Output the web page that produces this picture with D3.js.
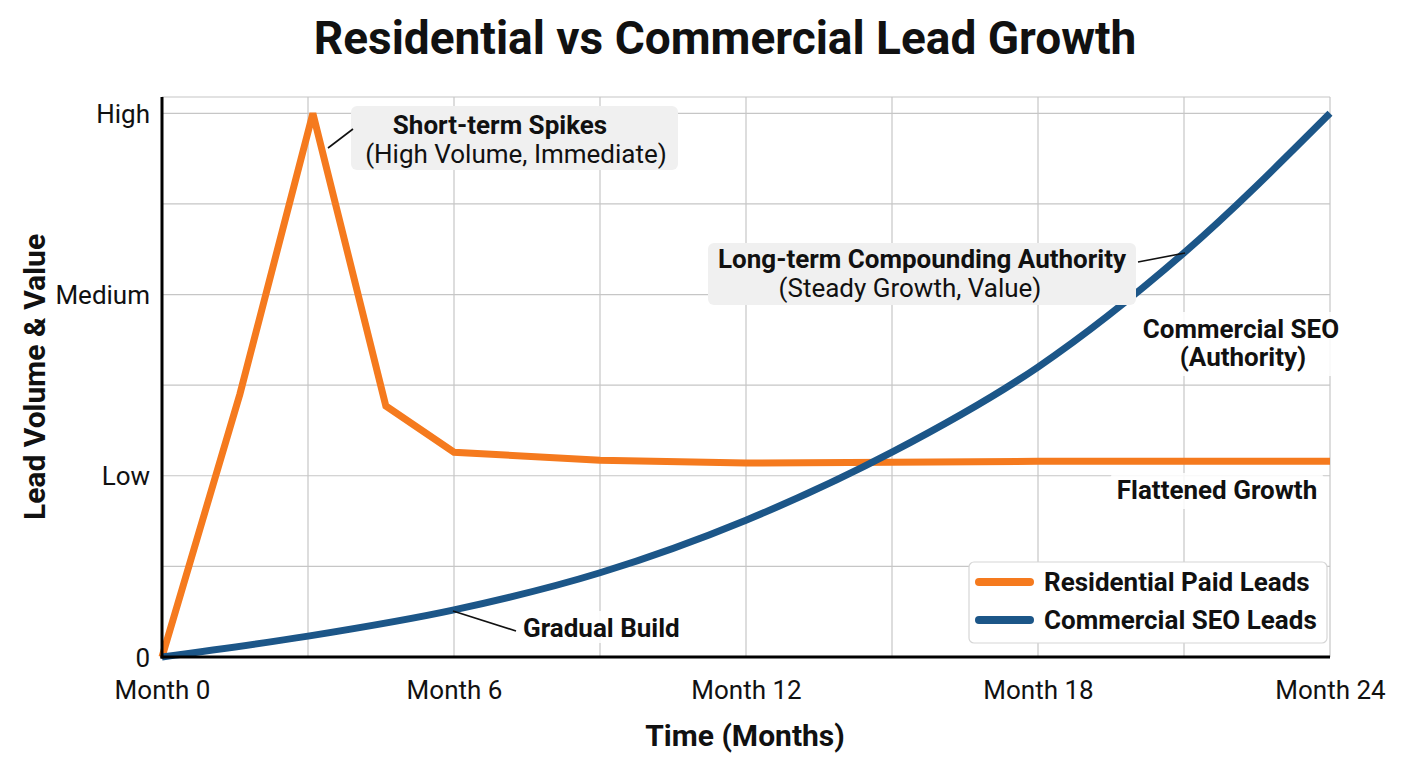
<!DOCTYPE html>
<html>
<head>
<meta charset="utf-8">
<script src="https://cdn.jsdelivr.net/npm/d3@7"></script>
<style>
  body { margin: 0; background: #fff; }
  text { font-family: Roboto, "Noto Sans", sans-serif; fill: #111; }
</style>
</head>
<body>
<script>
// данные (месяцы и условный уровень 0..6)
const paidMonths = [0, 1.6, 3.1, 4.6, 6, 9, 12, 15, 18, 21, 24]
const paidLeads = [0, 2.9, 6, 2.77, 2.26, 2.17, 2.14, 2.15, 2.16, 2.16, 2.16]
const seoMonths = [0, 3, 6, 9, 12, 15, 18, 21, 24]
const seoLeads = [0, 0.23, 0.52, 0.93, 1.51, 2.26, 3.2, 4.46, 6.0]

const xTicks = [0, 6, 12, 18, 24]
const xTickLabels = ['Month 0', 'Month 6', 'Month 12', 'Month 18', 'Month 24']
const yTicks = [0, 2, 4, 6]
const yTickLabels = ['0', 'Low', 'Medium', 'High']
const seriesNames = ['Residential Paid Leads', 'Commercial SEO Leads']

const width = 1408, height = 768
const orange = '#f57a1e', blue = '#1c5688'

const svg = d3.select('body').append('svg').attr('width', width).attr('height', height)
svg.append('rect').attr('width', width).attr('height', height).attr('fill', '#fff')

const x = d3.scaleLinear().domain([0, 24]).range([162, 1330])
const y = d3.scaleLinear().domain([0, 6.18]).range([657, 97])

// сетка
const grid = svg.append('g')
grid.selectAll('line.v').data(d3.range(0, 25, 3)).enter().append('line')
    .attr('x1', d => x(d)).attr('x2', d => x(d)).attr('y1', y(0)).attr('y2', y(6.18))
    .attr('stroke', '#c6c6c6').attr('stroke-width', 1.2)
grid.selectAll('line.h').data(d3.range(0, 7)).enter().append('line')
    .attr('x1', x(0)).attr('x2', x(24)).attr('y1', d => y(d)).attr('y2', d => y(d))
    .attr('stroke', '#c6c6c6').attr('stroke-width', 1.2)
grid.append('line').attr('x1', x(0)).attr('x2', x(24)).attr('y1', y(6.18)).attr('y2', y(6.18))
    .attr('stroke', '#c6c6c6').attr('stroke-width', 1.2)

// оси
const xAxis = d3.axisBottom(x).tickValues(xTicks).tickFormat((d, i) => xTickLabels[i]).tickSize(0).tickPadding(24)
const yAxis = d3.axisLeft(y).tickValues(yTicks).tickFormat((d, i) => yTickLabels[i]).tickSize(0).tickPadding(12)

const gx = svg.append('g').attr('transform', `translate(0,${y(0)})`).call(xAxis)
gx.select('.domain').remove()
gx.selectAll('text').style('font-size', '26px').attr('fill', '#111')
const gy = svg.append('g').attr('transform', `translate(${x(0)},0)`).call(yAxis)
gy.select('.domain').remove()
gy.selectAll('text').style('font-size', '26px').attr('fill', '#111').attr('dy', '0.35em')

// линии
const line = d3.line().x(d => x(d[0])).y(d => y(d[1]))
svg.append('path')
    .datum(paidMonths.map((m, i) => [m, paidLeads[i]]))
    .attr('d', line)
    .attr('fill', 'none').attr('stroke', orange).attr('stroke-width', 7)
    .attr('stroke-linejoin', 'miter')

svg.append('path')
    .datum(seoMonths.map((m, i) => [m, seoLeads[i]]))
    .attr('d', line.curve(d3.curveMonotoneX))
    .attr('fill', 'none').attr('stroke', blue).attr('stroke-width', 7)

// рамка осей
svg.append('line').attr('x1', x(0)).attr('x2', x(0)).attr('y1', y(6.18)).attr('y2', y(0) + 1.5)
    .attr('stroke', '#000').attr('stroke-width', 3)
svg.append('line').attr('x1', x(0) - 1.5).attr('x2', x(24)).attr('y1', y(0)).attr('y2', y(0))
    .attr('stroke', '#000').attr('stroke-width', 3)

// заголовок и подписи осей
svg.append('text').attr('x', 725).attr('y', 54).attr('text-anchor', 'middle')
    .style('font-size', '46px').style('font-weight', 'bold').text('Residential vs Commercial Lead Growth')
svg.append('text').attr('x', 745).attr('y', 746).attr('text-anchor', 'middle')
    .style('font-size', '30px').style('font-weight', 'bold').text('Time (Months)')
svg.append('text').attr('transform', 'translate(45,377) rotate(-90)').attr('text-anchor', 'middle')
    .style('font-size', '30px').style('font-weight', 'bold').text('Lead Volume & Value')

// аннотации
function leader(x1, y1, x2, y2) {
    svg.append('line').attr('x1', x1).attr('y1', y1).attr('x2', x2).attr('y2', y2)
        .attr('stroke', '#111').attr('stroke-width', 1.6)
}
function box(x0, y0, w, h, fill) {
    svg.append('rect').attr('x', x0).attr('y', y0).attr('width', w).attr('height', h)
        .attr('rx', 6).attr('fill', fill)
}
function label(tx, ty, str, bold, anchor) {
    svg.append('text').attr('x', tx).attr('y', ty).attr('text-anchor', anchor || 'middle')
        .style('font-size', '26px').style('font-weight', bold ? 'bold' : 'normal').text(str)
}

box(351, 106, 327, 64, '#f0f0f0')
label(500, 134, 'Short-term Spikes', true)
label(516, 163, '(High Volume, Immediate)', false)
leader(328, 148, 353, 129)

box(708, 243, 428, 62, '#f0f0f0')
label(922, 268, 'Long-term Compounding Authority', true)
label(910, 297, '(Steady Growth, Value)', false)
leader(1138, 262, 1185, 253)

box(1136, 312, 208, 64, 'rgba(255,255,255,0.85)')
label(1241, 338, 'Commercial SEO', true)
label(1243, 366, '(Authority)', true)

box(1110, 473, 214, 36, 'rgba(255,255,255,0.85)')
label(1217, 499, 'Flattened Growth', true)

box(518, 611, 168, 32, 'rgba(255,255,255,0.85)')
label(523, 637, 'Gradual Build', true, 'start')
leader(453, 611, 516, 631)

// легенда
const legend = svg.append('g').attr('transform', 'translate(969,562)')
legend.append('rect').attr('width', 358).attr('height', 81).attr('rx', 5)
    .attr('fill', '#fff').attr('stroke', '#d6d6d6').attr('stroke-width', 1.2)
const entries = legend.selectAll('g').data(seriesNames).enter().append('g')
    .attr('transform', (d, i) => `translate(0,${20 + i * 38})`)
entries.append('line').attr('x1', 10).attr('x2', 61).attr('y1', 0).attr('y2', 0)
    .attr('stroke', (d, i) => [orange, blue][i]).attr('stroke-width', 8).attr('stroke-linecap', 'round')
entries.append('text').attr('x', 75).attr('y', 9)
    .style('font-size', '26px').style('font-weight', 'bold').text(d => d)
</script>
</body>
</html>
